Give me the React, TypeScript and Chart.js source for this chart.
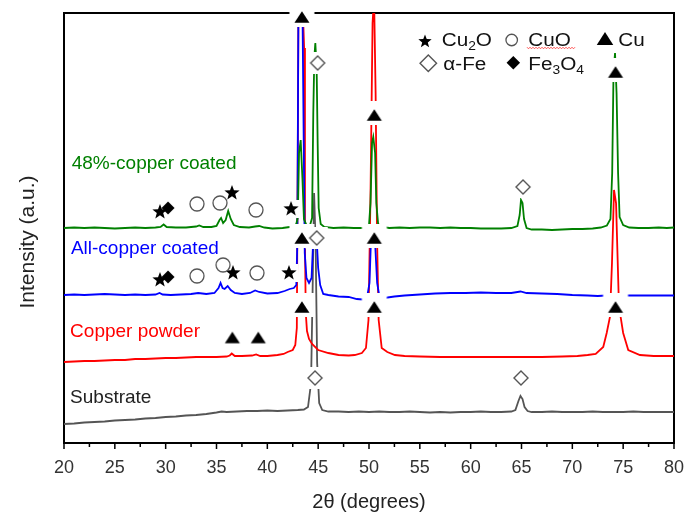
import React, { useEffect, useRef } from 'react';
import { Chart, registerables } from 'chart.js';

Chart.register(...registerables);

const FONT = '"Liberation Sans", Arial, Helvetica, sans-serif';

// ---- axis ticks ----
const xMajorTicks = [20, 25, 30, 35, 40, 45, 50, 55, 60, 65, 70, 75, 80];
const xMinorTicks = [22.5, 27.5, 32.5, 37.5, 42.5, 47.5, 52.5, 57.5, 62.5, 67.5, 72.5, 77.5];

// ---- spectra (2θ, offset intensity a.u.) ----
const substrate: [number, number][] = [
  [20, 19], [21, 19.5], [22, 20.5], [23, 21], [24, 21.5], [25, 22.5], [26, 23], [27, 23.5], [28, 24.5],
  [29, 25], [30, 26], [31, 26.5], [32, 27.5], [33, 28], [34, 29], [35, 30.5], [35.5, 31.5], [36, 31],
  [37, 31.5], [38, 32], [39, 32], [40, 32.5], [41, 32], [42, 32.5], [43, 33], [43.6, 33.5], [44.0, 36],
  [44.3, 60], [44.45, 150], [44.6, 250], [44.75, 200], [44.9, 80], [45.1, 40], [45.4, 33], [46, 31.5],
  [47, 31.5], [48, 31], [49, 31.5], [50, 31], [51, 31.5], [52, 31], [53, 31], [54, 31.5], [55, 31],
  [56, 30.5], [57, 31], [58, 30.5], [59, 31], [60, 31], [61, 31.5], [62, 31], [63, 31], [64, 31.5],
  [64.4, 33], [64.7, 42], [64.9, 47], [65.1, 44], [65.3, 36], [65.6, 32], [66, 31], [67, 31], [68, 31.5],
  [69, 31], [70, 31], [71, 31], [72, 31.5], [73, 31], [74, 31], [75, 31], [76, 31.5], [77, 31], [78, 31],
  [79, 31], [80, 31],
];

const copperPowder: [number, number][] = [
  [20, 81], [21, 81.5], [22, 82], [23, 82], [24, 82.5], [25, 83], [26, 83], [27, 84], [28, 84], [29, 84.5],
  [30, 85], [31, 85], [32, 85.5], [33, 86], [34, 86], [35, 86], [36, 86.5], [36.3, 87.5], [36.5, 89.5],
  [36.8, 87], [37.5, 87], [38.5, 87.5], [38.9, 88.5], [39.3, 87], [40, 87], [41, 88], [41.6, 89], [42.0, 91],
  [42.5, 93], [42.75, 98], [42.9, 115], [43.0, 300], [43.05, 416], [43.2, 445], [43.45, 445], [43.62, 395],
  [43.7, 200], [43.78, 130], [43.9, 112], [44.1, 104], [44.4, 99], [45, 93], [46, 90], [47, 88], [48, 87.5],
  [48.6, 88], [49.3, 90], [49.7, 95], [49.95, 123], [50.15, 250], [50.35, 420], [50.5, 445], [50.65, 350],
  [50.8, 200], [50.95, 123], [51.25, 95], [51.8, 91], [52.55, 88], [53.5, 87], [55, 86.5], [57, 86],
  [59, 86], [61, 86], [63, 86], [65, 86], [67, 86], [69, 86.5], [70.5, 87], [71.5, 88], [72.3, 89],
  [73.04, 96], [73.38, 110], [73.7, 126], [73.9, 180], [74.1, 253], [74.3, 240], [74.55, 150], [74.75, 126],
  [75.0, 110], [75.5, 93], [76.65, 88], [78, 87], [80, 87],
];

const allCopper: [number, number][] = [
  [20, 148], [21, 148.5], [22, 148], [23, 148.5], [24, 149], [25, 148.5], [26, 148], [27, 148.5], [28, 148],
  [29, 148.5], [29.4, 150], [29.7, 148.5], [30.5, 148], [31.5, 148.5], [32.5, 149], [33.2, 150], [34, 149],
  [34.8, 150], [35.2, 155], [35.4, 160], [35.6, 155], [35.8, 154], [36.1, 157], [36.4, 153], [36.8, 150],
  [37.5, 149], [38.3, 150], [38.8, 152.5], [39.2, 151], [40, 149.5], [41, 150], [41.7, 152], [42.2, 154],
  [42.6, 155], [42.85, 158], [42.95, 200], [43.05, 416], [43.2, 440], [43.45, 440], [43.58, 300],
  [43.68, 190], [43.85, 165], [44.1, 160], [44.35, 165], [44.5, 200], [44.65, 212], [44.85, 205],
  [45.0, 175], [45.2, 158], [45.5, 149], [46, 148], [47, 146.5], [48, 146], [48.8, 144], [49.4, 143.5],
  [49.8, 145], [50.05, 160], [50.2, 205], [50.4, 210], [50.6, 200], [50.8, 160], [51.0, 148], [51.5, 145],
  [52.5, 146.5], [53.5, 147.5], [55, 148.5], [56.5, 149.5], [58, 150], [59.5, 150], [61, 150.5], [62.5, 150],
  [64, 150], [64.9, 151.5], [65.5, 150], [67, 149.5], [68.5, 149], [70, 148], [71.5, 147.5], [72.5, 147],
  [73.3, 147.5], [74.2, 148], [75.2, 147.5], [76.5, 147.5], [78, 147.5], [80, 147.5],
];

const copper48: [number, number][] = [
  [20, 215], [21, 215.5], [22, 215], [23, 215.5], [24, 215], [25, 214.5], [26, 215], [27, 215.5], [28, 215],
  [29, 215.5], [29.5, 216], [29.8, 218.5], [30.1, 216], [31, 215.5], [32, 215.5], [33, 216.5], [33.3, 217.5],
  [33.7, 216], [34.5, 216], [35.0, 217], [35.3, 223], [35.45, 225], [35.65, 220], [35.9, 223], [36.15, 232],
  [36.4, 224], [36.7, 218], [37.3, 216], [38.2, 215.5], [38.8, 216.5], [39.2, 217], [39.7, 215.5],
  [40.5, 214.5], [41.5, 215], [42.2, 216], [42.6, 217], [42.85, 219], [43.0, 226], [43.12, 290],
  [43.28, 303], [43.45, 265], [43.6, 224], [43.85, 218], [44.2, 218], [44.4, 225], [44.52, 330],
  [44.62, 385], [44.72, 400], [44.85, 375], [44.95, 300], [45.05, 235], [45.25, 219], [45.6, 216],
  [46.5, 215], [47.5, 215.5], [48.5, 215], [49.5, 215], [50.0, 218], [50.15, 240], [50.3, 300],
  [50.42, 306], [50.6, 290], [50.72, 240], [50.9, 219], [51.3, 216], [52, 215], [53, 215.5], [54, 215],
  [55, 215.5], [56, 215.5], [57, 215], [58, 215.5], [59, 215], [60, 215], [61, 214.5], [62, 214.5],
  [63, 214.5], [64, 215], [64.6, 217], [64.82, 228], [64.95, 243], [65.1, 240], [65.25, 224], [65.5, 215],
  [66, 213.5], [67, 213.5], [68, 213], [69, 213.5], [70, 214], [71, 214], [72, 214.5], [72.8, 215.5],
  [73.4, 217.5], [73.75, 224], [73.92, 270], [74.05, 370], [74.2, 390], [74.35, 350], [74.5, 270],
  [74.65, 226], [75.0, 218], [75.6, 215.5], [76.5, 215], [77.5, 215], [78.5, 215.5], [79.3, 215], [80, 215.5],
];

// ---- phase markers (2θ, position) ----
const cu2oMarks: [number, number][] = [
  [29.44, 231], [36.52, 250], [42.33, 234], [29.44, 163], [36.62, 170], [42.13, 170],
];
const cuoMarks: [number, number][] = [
  [33.08, 239], [35.34, 240], [38.88, 233], [33.08, 167], [35.64, 178], [38.98, 170],
];
const cuMarks: [number, number][] = [
  [43.4, 426], [50.52, 328], [74.25, 371], [43.4, 205], [50.52, 205],
  [36.56, 105.5], [39.11, 105.5], [43.4, 136], [50.52, 136], [74.25, 136],
];
const feMarks: [number, number][] = [
  [44.95, 380], [65.15, 256], [44.86, 205], [44.69, 65], [64.95, 65],
];
const fe3o4Marks: [number, number][] = [
  [30.23, 235], [30.23, 166],
];

const seriesLabels = [
  { text: '48%-copper coated', x: 20.76, y: 274, color: '#008000' },
  { text: 'All-copper coated', x: 20.68, y: 189, color: '#0000ff' },
  { text: 'Copper powder', x: 20.6, y: 106, color: '#ff0000' },
  { text: 'Substrate', x: 20.6, y: 40.5, color: '#222222' },
];

type Kind = 'tri' | 'odia' | 'fdia' | 'circ' | 'star';

function drawSymbol(ctx: CanvasRenderingContext2D, kind: Kind, cx: number, cy: number, sz: number) {
  ctx.save();
  ctx.beginPath();
  if (kind === 'tri') {
    const w = sz, h = sz * 0.78;
    ctx.moveTo(cx, cy - h / 2);
    ctx.lineTo(cx + w / 2, cy + h / 2);
    ctx.lineTo(cx - w / 2, cy + h / 2);
    ctx.closePath();
    ctx.fillStyle = '#000';
    ctx.fill();
  } else if (kind === 'odia' || kind === 'fdia') {
    const r = sz / 2;
    ctx.moveTo(cx, cy - r);
    ctx.lineTo(cx + r, cy);
    ctx.lineTo(cx, cy + r);
    ctx.lineTo(cx - r, cy);
    ctx.closePath();
    if (kind === 'odia') {
      ctx.fillStyle = '#fff';
      ctx.fill();
      ctx.strokeStyle = '#555';
      ctx.lineWidth = 1.4;
      ctx.stroke();
    } else {
      ctx.fillStyle = '#000';
      ctx.fill();
    }
  } else if (kind === 'circ') {
    ctx.arc(cx, cy, sz / 2, 0, Math.PI * 2);
    ctx.fillStyle = '#fff';
    ctx.fill();
    ctx.strokeStyle = '#555';
    ctx.lineWidth = 1.3;
    ctx.stroke();
  } else {
    const R = sz / 2, r = R * 0.42;
    for (let i = 0; i < 10; i++) {
      const rad = i % 2 === 0 ? R : r;
      const a = -Math.PI / 2 + (i * Math.PI) / 5;
      const px = cx + rad * Math.cos(a);
      const py = cy + rad * Math.sin(a);
      if (i === 0) ctx.moveTo(px, py);
      else ctx.lineTo(px, py);
    }
    ctx.closePath();
    ctx.fillStyle = '#000';
    ctx.fill();
  }
  ctx.restore();
}

const plotSize: Record<Kind, number> = { tri: 15, odia: 14, fdia: 13, circ: 14, star: 16 };
// halo extents relative to centre: [left, right, top, bottom]
const haloBox: Record<Kind, [number, number, number, number]> = {
  tri: [12.5, 12.5, 14, 10],
  odia: [11, 11, 11, 11],
  fdia: [9.5, 9.5, 9.5, 9.5],
  circ: [9.5, 9.5, 9.5, 9.5],
  star: [9, 9, 9, 9],
};

function makeCanvas(kind: Kind, halo: boolean): HTMLCanvasElement {
  const [l, r, t, b] = haloBox[kind];
  const hw = Math.ceil(Math.max(l, r)) + 1;
  const hh = Math.ceil(Math.max(t, b)) + 1;
  const c = document.createElement('canvas');
  c.width = hw * 2;
  c.height = hh * 2;
  const ctx = c.getContext('2d')!;
  if (halo) {
    ctx.fillStyle = '#ffffff';
    if (kind === 'circ') {
      ctx.beginPath();
      ctx.arc(hw, hh, l, 0, Math.PI * 2);
      ctx.fill();
    } else {
      ctx.fillRect(hw - l, hh - t, l + r, t + b);
    }
  } else {
    drawSymbol(ctx, kind, hw, hh, plotSize[kind]);
  }
  return c;
}

function drawSubText(ctx: CanvasRenderingContext2D, parts: [string, boolean][], x: number, y: number) {
  let cx = x;
  for (const [t, sub] of parts) {
    ctx.font = sub ? `12px ${FONT}` : `18px ${FONT}`;
    ctx.fillText(t, cx, sub ? y + 4 : y);
    cx += ctx.measureText(t).width;
  }
}

const decorPlugin = {
  id: 'decor',
  beforeDatasetsDraw(chart: any) {
    const { ctx, chartArea: a, scales } = chart;
    const xs = scales.x;
    ctx.save();
    ctx.strokeStyle = '#000';
    ctx.lineWidth = 2;
    ctx.strokeRect(a.left, a.top, a.right - a.left, a.bottom - a.top);
    ctx.lineWidth = 1.5;
    ctx.beginPath();
    for (const v of xMajorTicks) {
      const px = xs.getPixelForValue(v);
      ctx.moveTo(px, a.bottom);
      ctx.lineTo(px, a.bottom + 6);
    }
    for (const v of xMinorTicks) {
      const px = xs.getPixelForValue(v);
      ctx.moveTo(px, a.bottom);
      ctx.lineTo(px, a.bottom + 4);
    }
    ctx.stroke();
    ctx.restore();
  },
  afterDatasetsDraw(chart: any) {
    const { ctx, chartArea: a, scales } = chart;
    const xs = scales.x, ys = scales.y;
    ctx.save();
    ctx.font = `19px ${FONT}`;
    ctx.textBaseline = 'alphabetic';
    ctx.textAlign = 'left';
    for (const lb of seriesLabels) {
      ctx.fillStyle = lb.color;
      ctx.fillText(lb.text, xs.getPixelForValue(lb.x), ys.getPixelForValue(lb.y));
    }
    // y-axis title
    ctx.save();
    ctx.translate(33.5, (a.top + a.bottom) / 2 + 14);
    ctx.rotate(-Math.PI / 2);
    ctx.textAlign = 'center';
    ctx.fillStyle = '#222';
    ctx.font = `21px ${FONT}`;
    ctx.fillText('Intensity (a.u.)', 0, 0);
    ctx.restore();
    // legend
    drawSymbol(ctx, 'star', 425, 41.5, 14);
    drawSymbol(ctx, 'circ', 511.7, 40, 11.5);
    drawSymbol(ctx, 'tri', 605, 38.5, 16.5);
    drawSymbol(ctx, 'odia', 428.3, 63.3, 16.5);
    drawSymbol(ctx, 'fdia', 513.3, 62.7, 13.5);
    ctx.fillStyle = '#111';
    const sx = 1.15;
    const legendText: [[string, boolean][], number, number][] = [
      [[['Cu', false], ['2', true], ['O', false]], 441.7, 46],
      [[['CuO', false]], 528.3, 46],
      [[['Cu', false]], 618.3, 46],
      [[['\u03b1-Fe', false]], 443.3, 70],
      [[['Fe', false], ['3', true], ['O', false], ['4', true]], 528.3, 70],
    ];
    for (const [parts, x, y] of legendText) {
      ctx.save();
      ctx.translate(x, y);
      ctx.scale(sx, 1);
      drawSubText(ctx, parts, 0, 0);
      ctx.restore();
    }
    ctx.strokeStyle = '#ff3030';
    ctx.lineWidth = 0.8;
    ctx.beginPath();
    for (let x = 527, i = 0; x <= 575; x += 1.5, i++) {
      const y = 48 + (i % 2 === 0 ? -0.8 : 0.8);
      if (i === 0) ctx.moveTo(x, y);
      else ctx.lineTo(x, y);
    }
    ctx.stroke();
    ctx.restore();
  },
};

const toXY = (arr: [number, number][]) => arr.map(([x, y]) => ({ x, y }));

export default function App() {
  const ref = useRef<HTMLCanvasElement>(null);
  useEffect(() => {
    const canvas = ref.current;
    if (!canvas) return;
    const markerSets: [Kind, [number, number][]][] = [
      ['tri', cuMarks],
      ['odia', feMarks],
      ['fdia', fe3o4Marks],
      ['circ', cuoMarks],
      ['star', cu2oMarks],
    ];
    const markerDatasets: any[] = [];
    for (const [kind, marks] of markerSets) {
      markerDatasets.push({
        data: toXY(marks),
        showLine: false,
        pointStyle: makeCanvas(kind, true),
        pointRadius: 6,
        pointHoverRadius: 6,
        clip: false,
        order: 1,
      });
      markerDatasets.push({
        data: toXY(marks),
        showLine: false,
        pointStyle: makeCanvas(kind, false),
        pointRadius: 6,
        pointHoverRadius: 6,
        clip: false,
        order: 0,
      });
    }
    const line = (data: [number, number][], color: string, order: number) => ({
      data: toXY(data),
      showLine: true,
      borderColor: color,
      borderWidth: 1.8,
      pointRadius: 0,
      pointHoverRadius: 0,
      tension: 0,
      fill: false,
      order,
    });
    const chart = new Chart(canvas, {
      type: 'scatter',
      data: {
        datasets: [
          line(copper48, '#008000', 2),
          line(allCopper, '#0000ff', 3),
          line(copperPowder, '#ff0000', 4),
          line(substrate, '#555555', 5),
          ...markerDatasets,
        ],
      },
      options: {
        responsive: false,
        devicePixelRatio: 1,
        animation: false,
        events: [],
        layout: { padding: { top: 13, right: 12, left: 0, bottom: 0 } },
        plugins: { legend: { display: false }, tooltip: { enabled: false } },
        scales: {
          x: {
            type: 'linear',
            position: 'bottom',
            min: 20,
            max: 80,
            afterBuildTicks: (s: any) => {
              s.ticks = xMajorTicks.map((v) => ({ value: v }));
            },
            afterFit: (s: any) => {
              s.height = 71;
              s.paddingLeft = 0;
              s.paddingRight = 0;
            },
            ticks: {
              color: '#333',
              font: { family: FONT, size: 18 },
              padding: 14,
              maxRotation: 0,
              autoSkip: false,
            },
            grid: { display: false, drawTicks: false },
            border: { display: false },
            title: {
              display: true,
              text: '2\u03b8 (degrees)',
              color: '#222',
              font: { family: FONT, size: 20 },
              padding: { top: 0, bottom: 0 },
            },
          },
          y: {
            type: 'linear',
            min: 0,
            max: 430,
            afterFit: (s: any) => {
              s.width = 64;
              s.paddingTop = 0;
              s.paddingBottom = 0;
            },
            ticks: { display: false },
            grid: { display: false, drawTicks: false },
            border: { display: false },
          },
        },
      },
      plugins: [decorPlugin],
    } as any);
    return () => chart.destroy();
  }, []);
  return (
    <div style={{ position: 'absolute', left: 0, top: 0, width: 686, height: 514, background: '#fff' }}>
      <canvas ref={ref} width={686} height={514} style={{ display: 'block', width: 686, height: 514 }} />
    </div>
  );
}
